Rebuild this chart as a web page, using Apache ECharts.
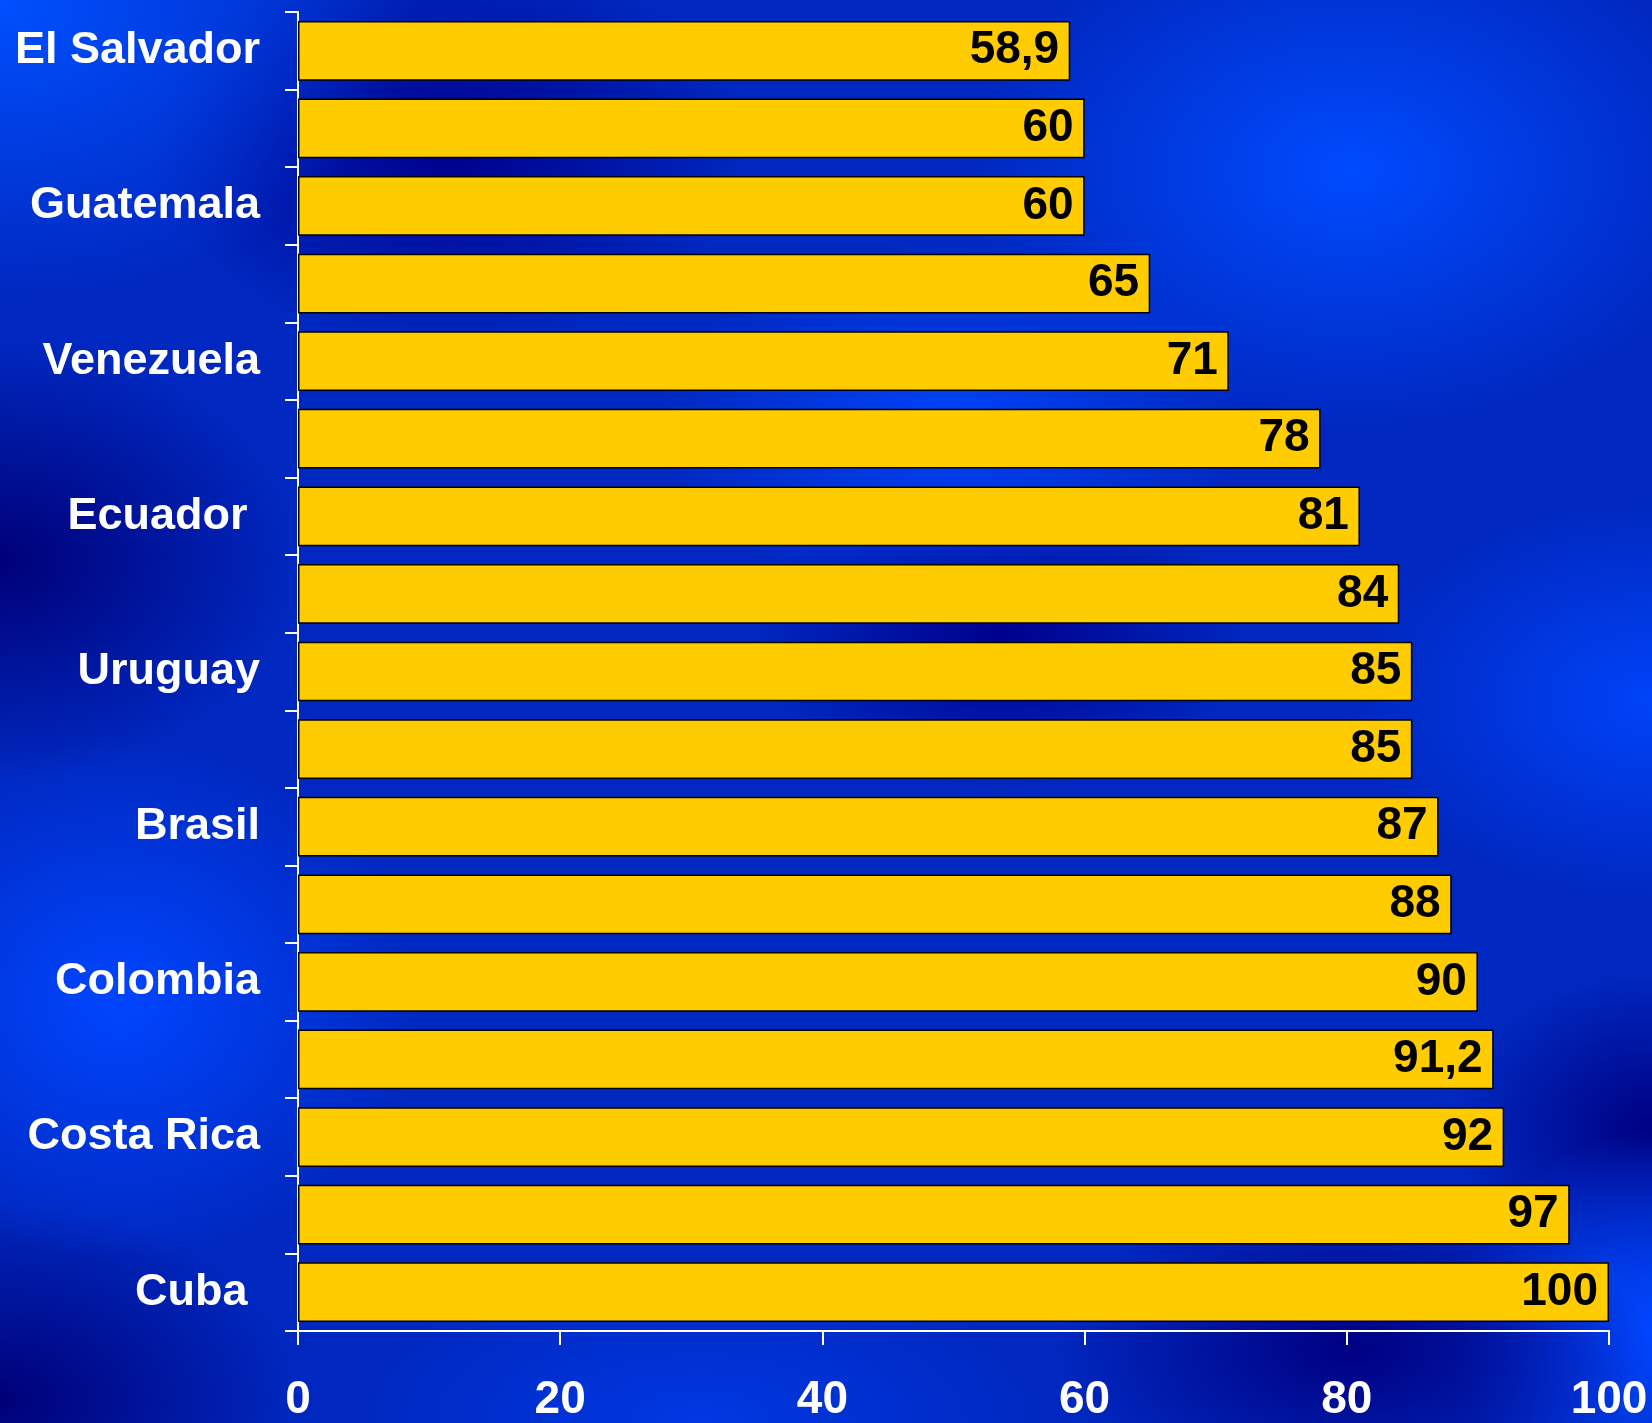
<!DOCTYPE html>
<html><head><meta charset="utf-8">
<script src="https://cdn.jsdelivr.net/npm/echarts@6/dist/echarts.min.js"></script>
<style>
html,body{margin:0;padding:0;}
#c{width:1652px;height:1423px;
background:
 radial-gradient(ellipse 420px 300px at 0px 0px, rgba(0,80,255,1), rgba(0,80,255,0)),
 radial-gradient(ellipse 380px 260px at 1350px 170px, rgba(0,75,255,1), rgba(0,75,255,0)),
 radial-gradient(ellipse 300px 180px at 950px 420px, rgba(0,70,255,0.9), rgba(0,70,255,0)),
 radial-gradient(ellipse 300px 220px at 0px 560px, rgba(0,0,120,1), rgba(0,0,120,0)),
 radial-gradient(ellipse 300px 260px at 120px 1000px, rgba(0,70,255,1), rgba(0,70,255,0)),
 radial-gradient(ellipse 300px 200px at 0px 1400px, rgba(0,0,120,1), rgba(0,0,120,0)),
 radial-gradient(ellipse 300px 160px at 1350px 1350px, rgba(0,0,130,1), rgba(0,0,130,0)),
 radial-gradient(ellipse 200px 200px at 1652px 1330px, rgba(0,70,255,1), rgba(0,70,255,0)),
 radial-gradient(ellipse 200px 160px at 1652px 1130px, rgba(0,0,130,1), rgba(0,0,130,0)),
 radial-gradient(ellipse 350px 150px at 700px 1420px, rgba(0,60,235,0.8), rgba(0,60,235,0)),
 radial-gradient(ellipse 300px 200px at 450px 150px, rgba(0,0,140,1), rgba(0,0,140,0)),
 radial-gradient(ellipse 250px 150px at 1000px 640px, rgba(0,0,140,1), rgba(0,0,140,0)),
 radial-gradient(ellipse 300px 200px at 1652px 700px, rgba(0,70,255,0.9), rgba(0,70,255,0)),
 #0028c0;}
</style></head>
<body><div id="c"></div>
<script>
var categories = ['El Salvador', '', 'Guatemala', '', 'Venezuela', '', 'Ecuador ', '', 'Uruguay', '', 'Brasil', '', 'Colombia', '', 'Costa Rica', '', 'Cuba '];
var values = [58.9, 60, 60, 65, 71, 78, 81, 84, 85, 85, 87, 88, 90, 91.2, 92, 97, 100];
var xTicks = [0, 20, 40, 60, 80, 100];

var chart = echarts.init(document.getElementById('c'));
var FONT = '"Liberation Sans", Arial, sans-serif';
chart.setOption({
  animation: false,
  backgroundColor: 'transparent',
  grid: {left: 298, right: 43, top: 12, bottom: 90, containLabel: false},
  xAxis: {
    type: 'value', min: xTicks[0], max: xTicks[xTicks.length - 1], interval: 20,
    splitLine: {show: false},
    axisLine: {show: true, lineStyle: {color: '#ffffff', width: 2}},
    axisTick: {show: true, length: 14, lineStyle: {color: '#ffffff', width: 2}},
    axisLabel: {color: '#ffffff', fontFamily: FONT, fontWeight: 'bold', fontSize: 46, margin: 46}
  },
  yAxis: {
    type: 'category', data: categories, inverse: true,
    axisLine: {show: true, lineStyle: {color: '#ffffff', width: 2}},
    axisTick: {show: true, length: 13, lineStyle: {color: '#ffffff', width: 2}},
    axisLabel: {color: '#ffffff', fontFamily: FONT, fontWeight: 'bold', fontSize: 45, margin: 38, interval: 0, padding: [3, 0, 0, 0]}
  },
  series: [{
    type: 'bar', data: values, barWidth: '77%',
    itemStyle: {color: '#ffcc00', borderColor: '#000000', borderWidth: 1.5},
    label: {
      show: true, position: 'insideRight', distance: 11,
      color: '#000000', fontFamily: FONT, fontWeight: 'bold', fontSize: 46,
      formatter: function (p) { return String(p.value).replace('.', ','); }
    }
  }]
});
</script></body></html>
